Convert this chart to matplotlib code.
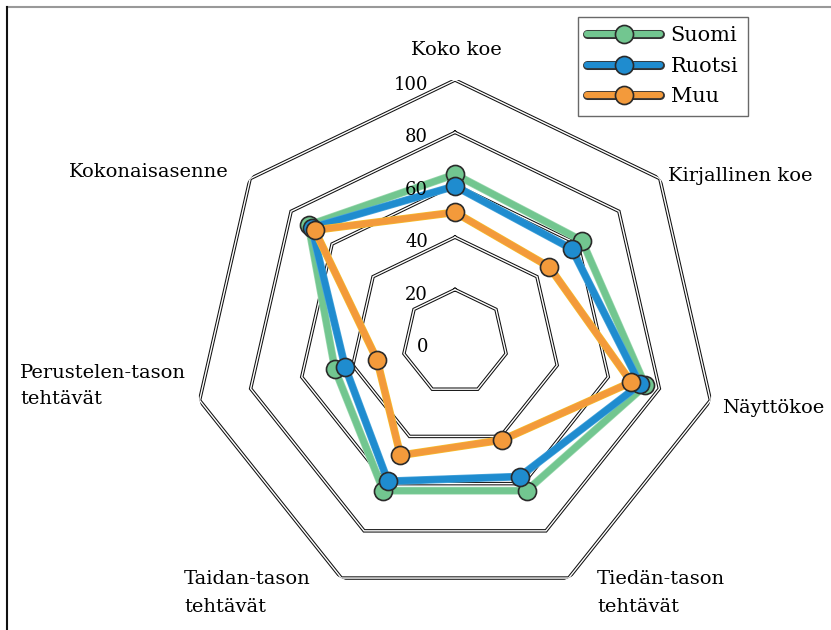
import numpy as np
import matplotlib
matplotlib.use("Agg")
import matplotlib.pyplot as plt
import matplotlib.patheffects as pe
from matplotlib.lines import Line2D
from matplotlib.transforms import offset_copy

categories = ["Koko koe", "Kirjallinen koe", "Näyttökoe", "Tiedän-tason\ntehtävät",
              "Taidan-tason\ntehtävät", "Perustelen-tason\ntehtävät", "Kokonaisasenne"]
series_names = ["Suomi", "Ruotsi", "Muu"]
suomi = [64, 62, 74.5, 63, 63, 47, 71.5]
ruotsi = [59.5, 57, 72.5, 57, 59, 43, 70]
muu = [49.5, 46, 69, 41.5, 48, 30.5, 68.5]
ticks = [0, 20, 40, 60, 80, 100]

colors = ["#72c690", "#1f8ccf", "#f39a3b"]
edge_colors = ["#9bd8ae", "#4aa6dc", "#f7bd2c"]

plt.rcParams["font.family"] = ["DejaVu Serif"]

W, H = 831, 630
cx, cy, R = 455, 342, 262
fig = plt.figure(figsize=(W / 100, H / 100), dpi=100)
ax = fig.add_axes([(cx - R) / W, (H - cy - R) / H, 2 * R / W, 2 * R / H], polar=True)
ax.set_theta_zero_location("N")
ax.set_theta_direction(-1)
ax.set_ylim(0, 100)
ax.axis("off")

n = len(categories)
angles = np.arange(n) * 2 * np.pi / n
ang_closed = np.append(angles, angles[0])

# double-line heptagon grid
for t in ticks[1:]:
    ax.plot(ang_closed, [t] * (n + 1), color="#111111", lw=2.5, zorder=1,
            solid_joinstyle="miter")
    ax.plot(ang_closed, [t] * (n + 1), color="white", lw=1.0, zorder=1.1,
            solid_joinstyle="miter")

# tick labels, left of the top spoke
lab_tr = offset_copy(ax.transData, fig=fig, x=-27, y=-5, units="dots")
for t in ticks:
    ax.text(0, t, str(t), transform=lab_tr, ha="right", va="center", fontsize=13,
            zorder=20)

for vals, c, ec, z in zip([suomi, ruotsi, muu], colors, edge_colors, [3, 4, 5]):
    v = np.append(vals, vals[0])
    ax.plot(ang_closed, v, color=c, lw=4.6, zorder=z, solid_joinstyle="round",
            path_effects=[pe.Stroke(linewidth=5.6, foreground=ec), pe.Normal()])
    ax.plot(angles, vals, "o", ms=13, mfc=c, mec="#2a2a2a", mew=1.2, zorder=z + 0.5)

# category labels (pixel positions of text anchors)
label_pos = [(456, 50, "center", 1.2), (668, 176, "left", 1.2), (722, 408, "left", 1.2),
             (597, 593, "left", 1.75), (184, 593, "left", 1.75), (20, 386, "left", 1.55),
             (149, 172, "center", 1.2)]
for lab, (x, y, ha, ls) in zip(categories, label_pos):
    fig.text(x / W, 1 - y / H, lab, ha=ha, va="center", fontsize=14, linespacing=ls)

handles = []
for c in colors:
    ln = Line2D([], [], color=c, lw=4.5, solid_capstyle="round", path_effects=[
        pe.Stroke(linewidth=6.5, foreground="#333333", capstyle="round"), pe.Normal()])
    mk = Line2D([], [], ls="none", marker="o", ms=13, mfc=c, mec="#2a2a2a", mew=1.2)
    handles.append((ln, mk))
leg = fig.legend(handles, series_names, loc="upper left",
                 bbox_to_anchor=(578 / W, 1 - 17 / H), borderaxespad=0,
                 fontsize=15, frameon=True, fancybox=False, edgecolor="#444444",
                 handlelength=3.5, borderpad=0.45, labelspacing=0.55, handletextpad=0.5)
leg.get_frame().set_linewidth(1.0)

# partial frame of the original figure
fig.add_artist(Line2D([7 / W, 1], [1 - 7 / H, 1 - 7 / H], color="#999999", lw=1.5))
fig.add_artist(Line2D([7 / W, 7 / W], [0, 1 - 7 / H], color="#111111", lw=1.5))

fig.savefig("out.png", dpi=100)
